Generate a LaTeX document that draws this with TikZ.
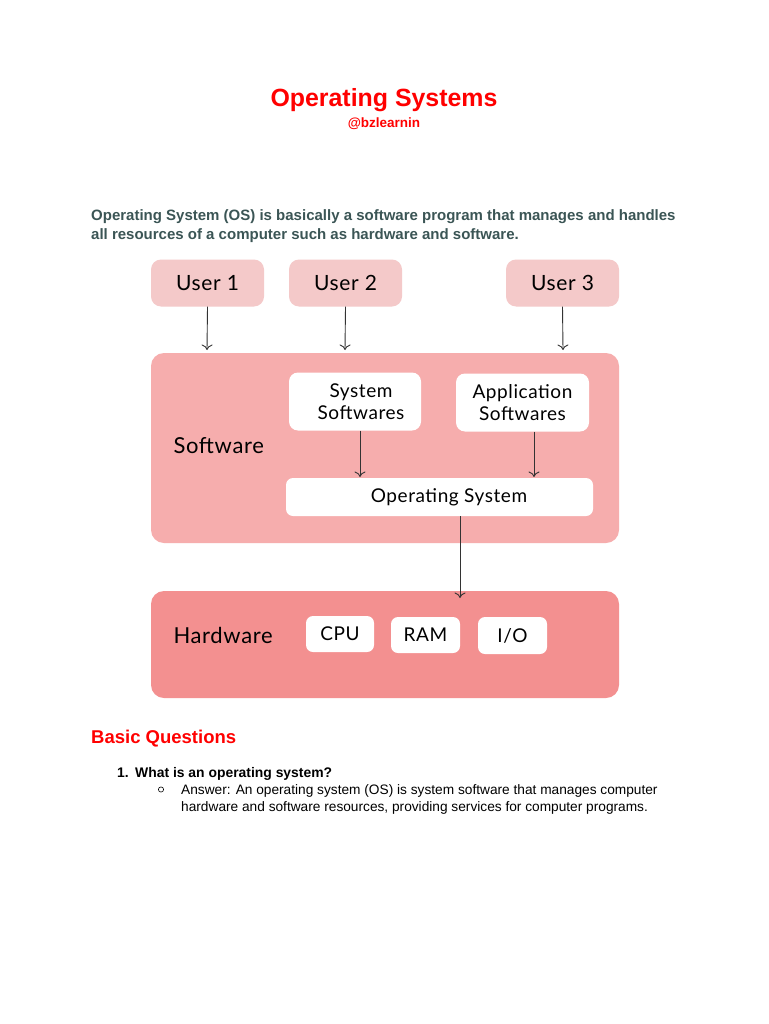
\documentclass[tikz,border=0pt]{standalone}
\usepackage{fontspec}
\setmainfont{Liberation Sans}
\newfontfamily\diafont[LetterSpace=3]{Lato}
\usetikzlibrary{arrows.meta}
\definecolor{userfill}{HTML}{F4C9C9}
\definecolor{swfill}{HTML}{F6ADAD}
\definecolor{hwfill}{HTML}{F39090}
\definecolor{titlered}{HTML}{FF0000}
\definecolor{paragray}{HTML}{3B5555}
\definecolor{arrowgray}{HTML}{333333}
\tikzset{
  userbox/.style={fill=userfill, rounded corners=10pt, minimum width=113pt, minimum height=47pt, font=\diafont\fontsize{21}{22}\selectfont, text=black},
  whitebox/.style={fill=white, rounded corners=9pt, font=\diafont\fontsize{19}{22}\selectfont, text=black, align=center},
  panel/.style={rounded corners=13pt},
  lbl/.style={font=\diafont\fontsize{22}{24}\selectfont, text=black},
  conn/.style={draw=arrowgray, line width=0.9pt, -{To[length=5.5pt,width=11pt]}},
  paratext/.style={anchor=base west, inner sep=0pt, font=\bfseries\fontsize{15}{17}\selectfont, text=paragray},
  bodytext/.style={anchor=base west, inner sep=0pt, font=\fontsize{13.7}{16}\selectfont, text=black},
}
\begin{document}
\begin{tikzpicture}[x=1pt,y=-1pt]
\useasboundingbox (0,0) rectangle (768,1024);
\fill[white] (0,0) rectangle (768,1024);
% titles
\node[inner sep=0pt, anchor=base, font=\bfseries\fontsize{24.9}{28}\selectfont, text=titlered] (title) at (384,107) {Operating Systems};
\node[inner sep=0pt, anchor=base, font=\bfseries\fontsize{13.5}{16}\selectfont, text=titlered] (handle) at (384,128) {@bzlearnin};
% paragraph
\node[paratext] (p1) at (91,221) {Operating System (OS) is basically a software program that manages and handles};
\node[paratext] (p2) at (91,240) {all resources of a computer such as hardware and software.};
% panels
\fill[panel, swfill] (151,353) rectangle (619,543);
\fill[panel, hwfill] (151,591) rectangle (619,698);
\coordinate (swtop1) at (207,350);
\coordinate (swtop2) at (345,350);
\coordinate (swtop3) at (563,350);
\coordinate (hwtop) at (460,598);
% users
\node[userbox] (u1) at (207.5,283) {User 1};
\node[userbox] (u2) at (345.5,283) {User 2};
\node[userbox] (u3) at (562.5,283) {User 3};
% software inner
\node[lbl, anchor=west] (swl) at (170,446) {Software};
\node[whitebox, minimum width=132pt, minimum height=58pt] (ss) at (355,401.5) {\hspace*{12pt}System\\\hspace*{12pt}Softwares};
\node[whitebox, minimum width=133pt, minimum height=58pt] (as) at (522.5,402.5) {Application\\Softwares};
\node[whitebox, rounded corners=7pt, minimum width=307pt, minimum height=38pt] (os) at (439.5,497) {\hspace*{19pt}Operating System};
% hardware inner
\node[lbl, anchor=west] (hwl) at (170,635) {Hardware};
\node[whitebox, rounded corners=7pt, minimum width=68pt, minimum height=36pt] (cpu) at (340,634) {CPU};
\node[whitebox, rounded corners=7pt, minimum width=69pt, minimum height=36pt] (ram) at (425.5,635) {RAM};
\node[whitebox, rounded corners=7pt, minimum width=69pt, minimum height=37pt] (io) at (512.5,635.5) {I/O};
% connectors
\draw[conn] (u1.south) -- (swtop1);
\draw[conn] (u2.south) -- (swtop2);
\draw[conn] (u3.south) -- (swtop3);
\draw[conn] (ss.south -| 360,0) -- (360,477);
\draw[conn] (as.south -| 534,0) -- (534,477);
\draw[conn] (os.south -| hwtop) -- (hwtop);
% questions
\node[anchor=base west, inner sep=0pt, font=\bfseries\fontsize{18.5}{22}\selectfont, text=titlered] (bq) at (91,743) {Basic Questions};
\node[anchor=base west, inner sep=0pt, font=\bfseries\fontsize{13.9}{16}\selectfont] (q1n) at (117,777) {1.};
\node[anchor=base west, inner sep=0pt, font=\bfseries\fontsize{13.9}{16}\selectfont] (q1) at (135,777) {What is an operating system?};
\draw[black, line width=0.6pt] (161,789.5) circle (2.6pt);
\node[bodytext] (a1) at (181,794) {Answer: An operating system (OS) is system software that manages computer};
\node[bodytext] (a2) at (181,811) {hardware and software resources, providing services for computer programs.};
\end{tikzpicture}
\end{document}
